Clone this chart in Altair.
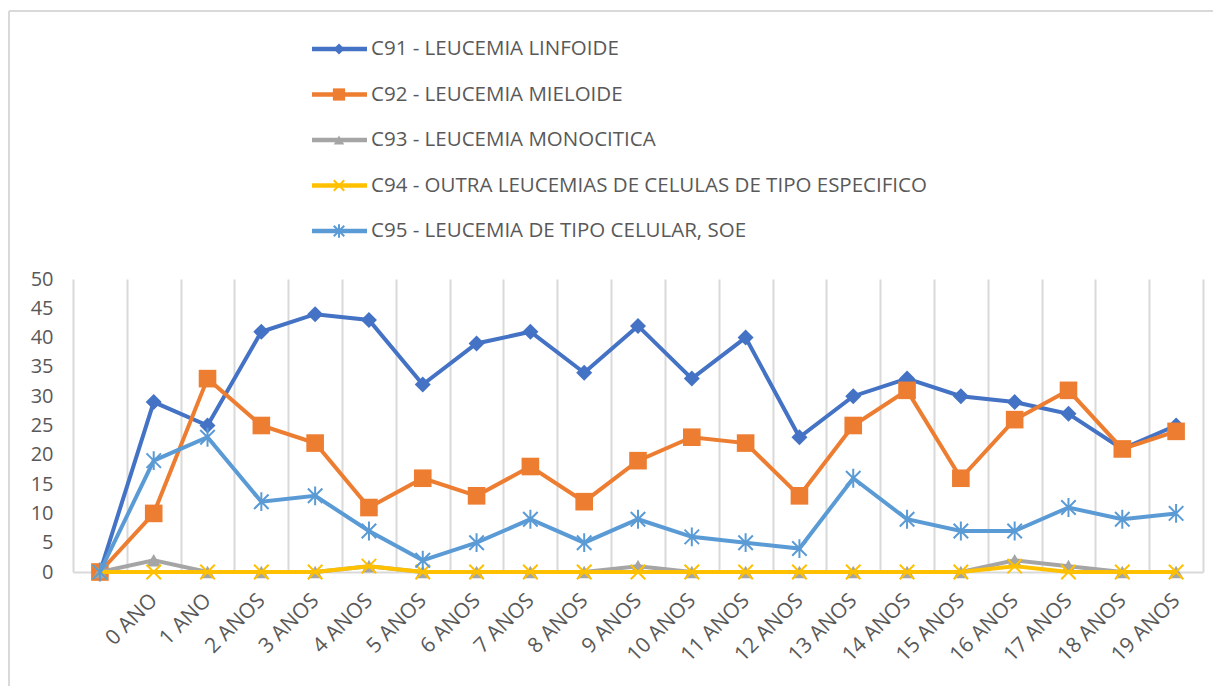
import altair as alt
import pandas as pd

# ---------------- data ----------------
categories = [" ", "0 ANO", "1 ANO", "2 ANOS", "3 ANOS", "4 ANOS", "5 ANOS", "6 ANOS",
              "7 ANOS", "8 ANOS", "9 ANOS", "10 ANOS", "11 ANOS", "12 ANOS", "13 ANOS",
              "14 ANOS", "15 ANOS", "16 ANOS", "17 ANOS", "18 ANOS", "19 ANOS"]

series_names = [
    "C91 - LEUCEMIA LINFOIDE",
    "C92 - LEUCEMIA MIELOIDE",
    "C93 - LEUCEMIA MONOCITICA",
    "C94 - OUTRA LEUCEMIAS DE CELULAS DE TIPO ESPECIFICO",
    "C95 - LEUCEMIA DE TIPO CELULAR, SOE",
]

c91 = [0, 29, 25, 41, 44, 43, 32, 39, 41, 34, 42, 33, 40, 23, 30, 33, 30, 29, 27, 21, 25]
c92 = [0, 10, 33, 25, 22, 11, 16, 13, 18, 12, 19, 23, 22, 13, 25, 31, 16, 26, 31, 21, 24]
c93 = [0, 2, 0, 0, 0, 1, 0, 0, 0, 0, 1, 0, 0, 0, 0, 0, 0, 2, 1, 0, 0]
c94 = [0, 0, 0, 0, 0, 1, 0, 0, 0, 0, 0, 0, 0, 0, 0, 0, 0, 1, 0, 0, 0]
c95 = [0, 19, 23, 12, 13, 7, 2, 5, 9, 5, 9, 6, 5, 4, 16, 9, 7, 7, 11, 9, 10]

y_ticks = [0, 5, 10, 15, 20, 25, 30, 35, 40, 45, 50]

all_values = [c91, c92, c93, c94, c95]

rows = []
for name, vals in zip(series_names, all_values):
    for cat, v in zip(categories, vals):
        rows.append({"series": name, "cat": cat, "value": v})
df = pd.DataFrame(rows)
legend_df = pd.DataFrame({"series": series_names})

# ---------------- styles ----------------
FONT = "Open Sans"
TXT = "#595959"
GRID = "#d9d9d9"
colors = ["#4472C4", "#ED7D31", "#A5A5A5", "#FFC000", "#5B9BD5"]
X_PATH = "M-1,-1L1,1M-1,1L1,-1"
STAR_PATH = "M-1,-1L1,1M-1,1L1,-1M0,-1.3L0,1.3"
marker = [
    dict(shape="diamond", filled=True, size=256, strokeWidth=0),
    dict(shape="square", filled=True, size=310, strokeWidth=0),
    dict(shape="triangle-up", filled=True, size=210, strokeWidth=0),
    dict(shape=X_PATH, filled=False, size=210, strokeWidth=2),
    dict(shape=STAR_PATH, filled=False, size=210, strokeWidth=2),
]
legend_size = [120, 150, 110, 110, 110]

W, H = 1130, 293

xenc = alt.X(
    "cat:N", sort=categories,
    scale=alt.Scale(type="band", paddingInner=0, paddingOuter=0),
    axis=alt.Axis(title=None, labelAngle=-45, labelAlign="right", labelBaseline="middle",
                  labelFontSize=21, labelColor=TXT, labelFont=FONT, labelPadding=25,
                  ticks=False, grid=True, gridColor=GRID, gridWidth=2, tickBand="extent",
                  domainColor=GRID, domainWidth=2, labelOverlap=False),
)
yenc = alt.Y(
    "value:Q", scale=alt.Scale(domain=[0, 50], nice=False),
    axis=alt.Axis(title=None, values=y_ticks, grid=False, domain=False, ticks=False,
                  labelFontSize=20, labelColor=TXT, labelFont=FONT, labelPadding=20),
)

layers = []
for i, name in enumerate(series_names):
    base = alt.Chart(df).transform_filter(alt.datum.series == name)
    layers.append(base.mark_line(color=colors[i], strokeWidth=4).encode(x=xenc, y=yenc))
    layers.append(base.mark_point(color=colors[i], opacity=1, **marker[i]).encode(x=xenc, y=yenc))

# legend (manual, rows above plot)
LEG_Y0, LEG_STEP = -230, 45.5
for i, name in enumerate(series_names):
    ly = LEG_Y0 + i * LEG_STEP
    lb = alt.Chart(legend_df).transform_filter(alt.datum.series == name)
    layers.append(lb.mark_rule(color=colors[i], strokeWidth=4.5).encode(
        x=alt.value(239), x2=alt.value(294), y=alt.value(ly)))
    m = dict(marker[i])
    m["size"] = legend_size[i]
    layers.append(lb.mark_point(color=colors[i], opacity=1, **m).encode(
        x=alt.value(266), y=alt.value(ly)))
    layers.append(lb.mark_text(align="left", baseline="middle", font=FONT, fontSize=20.5,
                               color=TXT).encode(x=alt.value(298), y=alt.value(ly), text="series:N"))

# chart frame (top and left edges)
frame = alt.Chart(legend_df.head(1))
layers.append(frame.mark_rule(color=GRID, strokeWidth=2).encode(
    x=alt.value(-64), x2=alt.value(W + 20), y=alt.value(-268)))
layers.append(frame.mark_rule(color=GRID, strokeWidth=2).encode(
    x=alt.value(-64), y=alt.value(-268), y2=alt.value(H + 120)))

chart = alt.layer(*layers).properties(
    width=W, height=H,
    autosize=alt.AutoSizeParams(type="none"),
    padding={"left": 65, "top": 271, "right": 10, "bottom": 114},
    background="white",
).configure_view(stroke=None)

chart.save("out.html", embed_options={"renderer": "svg", "actions": False})
